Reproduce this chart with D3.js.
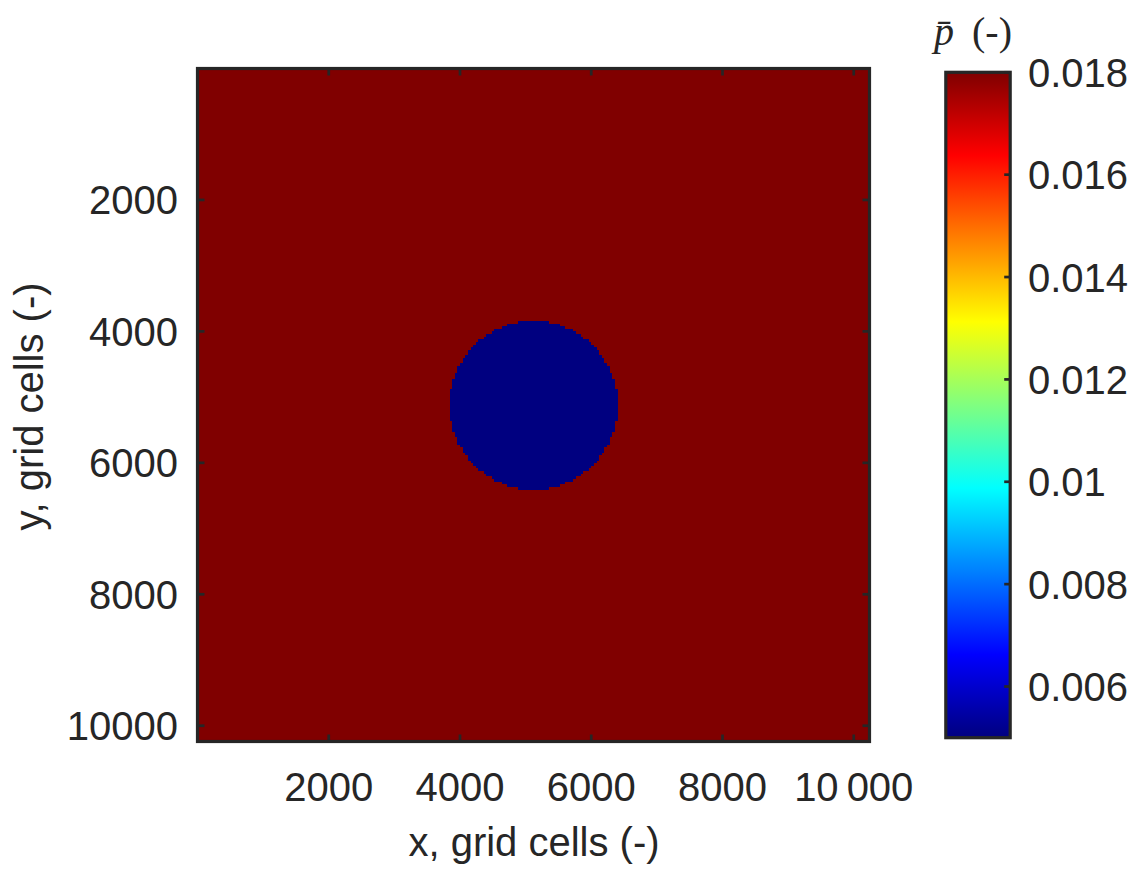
<!DOCTYPE html>
<html>
<head>
<meta charset="utf-8">
<script src="https://cdn.jsdelivr.net/npm/d3@7"></script>
<style>
  html, body { margin: 0; padding: 0; background: #ffffff; }
  svg { display: block; }
  text { font-family: "Liberation Sans", Arial, Helvetica, sans-serif; fill: #262626; }
</style>
</head>
<body>
<svg id="chart" width="1142" height="876"></svg>
<script>
// ---------------- data ----------------
const gridExtent = [0, 10240];               // grid cells in x and y
const displayCell = 40;                      // cell size of the displayed field (grid cells)
const phaseValues = [0.018, 0.005];          // [matrix, inclusion] values of p-bar
const inclusionCenter = [5120, 5120];        // [x, y] in grid cells
const inclusionRadius = [1280];              // grid cells
const xTicks = [2000, 4000, 6000, 8000, 10000];
const xTickLabels = ["2000", "4000", "6000", "8000", "10\u2009000"];
const yTicks = [2000, 4000, 6000, 8000, 10000];
const yTickLabels = ["2000", "4000", "6000", "8000", "10000"];
const cbarDomain = [0.005, 0.018];
const cbarTicks = [0.006, 0.008, 0.01, 0.012, 0.014, 0.016, 0.018];
const cbarTickLabels = ["0.006", "0.008", "0.01", "0.012", "0.014", "0.016", "0.018"];

// ---------------- scales ----------------
const svg = d3.select("#chart");
const ink = "#262626";
const x = d3.scaleLinear().domain(gridExtent).range([197.5, 869.5]);
const y = d3.scaleLinear().domain(gridExtent).range([68.5, 741.5]);

function jet(t) {
  const c = v => Math.max(0, Math.min(1, v));
  const r = c(1.5 - Math.abs(4 * t - 3));
  const g = c(1.5 - Math.abs(4 * t - 2));
  const b = c(1.5 - Math.abs(4 * t - 1));
  return d3.rgb(r * 255, g * 255, b * 255).formatHex();
}
const color = d3.scaleSequential(jet).domain(cbarDomain);

// ---------------- field ----------------
const field = svg.append("g");
field.append("rect")
  .attr("x", x(gridExtent[0])).attr("y", y(gridExtent[0]))
  .attr("width", x(gridExtent[1]) - x(gridExtent[0]))
  .attr("height", y(gridExtent[1]) - y(gridExtent[0]))
  .attr("fill", color(phaseValues[0]));

// inclusion cells, merged per row
const rows = [];
const nRows = Math.round((gridExtent[1] - gridExtent[0]) / displayCell);
for (let j = 0; j < nRows; j++) {
  const yc = gridExtent[0] + (j + 0.5) * displayCell;
  const dy = yc - inclusionCenter[1];
  if (Math.abs(dy) > inclusionRadius[0]) continue;
  let i0 = null, i1 = null;
  for (let i = 0; i < nRows; i++) {
    const xc = gridExtent[0] + (i + 0.5) * displayCell;
    const dx = xc - inclusionCenter[0];
    if (dx * dx + dy * dy <= inclusionRadius[0] * inclusionRadius[0]) {
      if (i0 === null) i0 = i;
      i1 = i;
    }
  }
  if (i0 !== null) rows.push({ y0: j * displayCell, x0: i0 * displayCell, x1: (i1 + 1) * displayCell });
}
field.selectAll("rect.inc").data(rows).join("rect")
  .attr("class", "inc")
  .attr("x", d => x(d.x0))
  .attr("y", d => y(d.y0))
  .attr("width", d => x(d.x1) - x(d.x0))
  .attr("height", d => y(d.y0 + displayCell) - y(d.y0) + 0.4)
  .attr("fill", color(phaseValues[1]))
  .attr("shape-rendering", "crispEdges");

// ---------------- axes ----------------
const tickLen = 7;
const frame = svg.append("g");
frame.selectAll("line.xt").data(xTicks).join("line")
  .attr("x1", d => x(d)).attr("x2", d => x(d))
  .attr("y1", y(gridExtent[1])).attr("y2", y(gridExtent[1]) - tickLen)
  .attr("stroke", ink).attr("stroke-width", 2.7);
frame.selectAll("line.xtt").data(xTicks).join("line")
  .attr("x1", d => x(d)).attr("x2", d => x(d))
  .attr("y1", y(gridExtent[0])).attr("y2", y(gridExtent[0]) + tickLen)
  .attr("stroke", ink).attr("stroke-width", 2.7);
frame.selectAll("line.yt").data(yTicks).join("line")
  .attr("y1", d => y(d)).attr("y2", d => y(d))
  .attr("x1", x(gridExtent[0])).attr("x2", x(gridExtent[0]) + tickLen)
  .attr("stroke", ink).attr("stroke-width", 2.7);
frame.selectAll("line.ytr").data(yTicks).join("line")
  .attr("y1", d => y(d)).attr("y2", d => y(d))
  .attr("x1", x(gridExtent[1])).attr("x2", x(gridExtent[1]) - tickLen)
  .attr("stroke", ink).attr("stroke-width", 2.7);
frame.append("rect")
  .attr("x", x(gridExtent[0])).attr("y", y(gridExtent[0]))
  .attr("width", x(gridExtent[1]) - x(gridExtent[0]))
  .attr("height", y(gridExtent[1]) - y(gridExtent[0]))
  .attr("fill", "none").attr("stroke", ink).attr("stroke-width", 3.2);

svg.selectAll("text.xl").data(xTicks).join("text")
  .attr("x", d => x(d)).attr("y", 800.5)
  .attr("text-anchor", "middle").attr("font-size", 40)
  .text((d, i) => xTickLabels[i]);
svg.selectAll("text.yl").data(yTicks).join("text")
  .attr("x", 178).attr("y", d => y(d) + 14.5)
  .attr("text-anchor", "end").attr("font-size", 40)
  .text((d, i) => yTickLabels[i]);

svg.append("text").attr("x", 534).attr("y", 856)
  .attr("text-anchor", "middle").attr("font-size", 40)
  .text("x, grid cells (-)");
svg.append("text")
  .attr("transform", "translate(43,406.5) rotate(-90)")
  .attr("text-anchor", "middle").attr("font-size", 40)
  .text("y, grid cells (-)");

// ---------------- colorbar ----------------
const cbX0 = 945.8, cbX1 = 1010.2;
const cb = d3.scaleLinear().domain(cbarDomain).range([737.7, 72.3]);
const defs = svg.append("defs");
const grad = defs.append("linearGradient").attr("id", "jetgrad")
  .attr("x1", 0).attr("y1", 1).attr("x2", 0).attr("y2", 0);
grad.selectAll("stop").data(d3.range(0, 1.0001, 1 / 64)).join("stop")
  .attr("offset", d => d)
  .attr("stop-color", d => color(cbarDomain[0] + d * (cbarDomain[1] - cbarDomain[0])));
svg.append("rect")
  .attr("x", cbX0).attr("y", cb(cbarDomain[1]))
  .attr("width", cbX1 - cbX0).attr("height", cb(cbarDomain[0]) - cb(cbarDomain[1]))
  .attr("fill", "url(#jetgrad)");
svg.selectAll("line.ct").data(cbarTicks).join("line")
  .attr("x1", cbX1).attr("x2", cbX1 - 6)
  .attr("y1", d => cb(d)).attr("y2", d => cb(d))
  .attr("stroke", ink).attr("stroke-width", 2.7);
svg.append("rect")
  .attr("x", cbX0).attr("y", cb(cbarDomain[1]))
  .attr("width", cbX1 - cbX0).attr("height", cb(cbarDomain[0]) - cb(cbarDomain[1]))
  .attr("fill", "none").attr("stroke", ink).attr("stroke-width", 3.2);
svg.selectAll("text.cl").data(cbarTicks).join("text")
  .attr("x", 1028).attr("y", d => cb(d) + 14.5)
  .attr("font-size", 40)
  .text((d, i) => cbarTickLabels[i]);

const title = svg.append("text").attr("x", 934).attr("y", 45)
  .attr("font-size", 40)
  .style("font-family", "'Liberation Serif', 'Times New Roman', serif");
title.append("tspan").attr("font-style", "italic").text("p\u0304");
title.append("tspan").attr("dx", 8).text(" (-)");
</script>
</body>
</html>
